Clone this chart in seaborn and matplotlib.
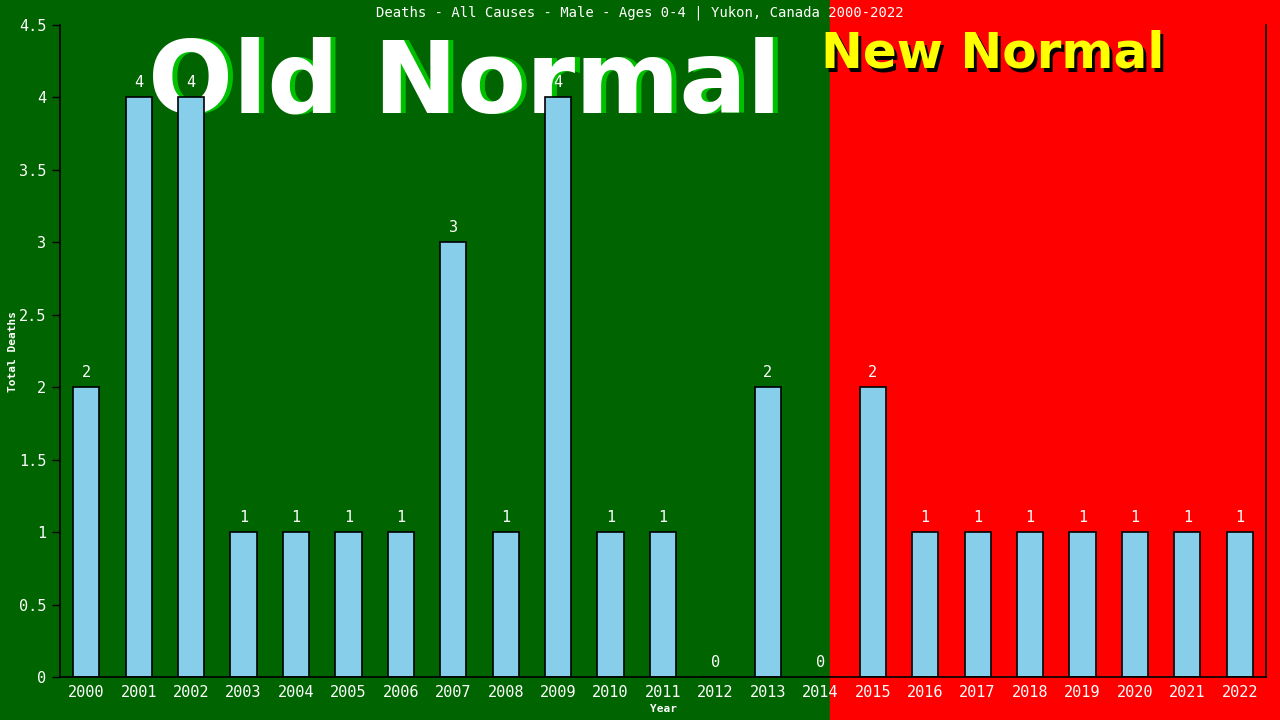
import numpy as np
import pandas as pd
import matplotlib
matplotlib.use('Agg')
import matplotlib.pyplot as plt
import matplotlib.transforms as mtransforms
from matplotlib.patches import Rectangle
import seaborn as sns

# Chart data
years = [str(y) for y in range(2000, 2023)]
deaths = [2, 4, 4, 1, 1, 1, 1, 3, 1, 4, 1, 1, 0, 2, 0, 2, 1, 1, 1, 1, 1, 1, 1]
y_ticks = [0, 0.5, 1, 1.5, 2, 2.5, 3, 3.5, 4, 4.5]
title = 'Deaths - All Causes - Male - Ages 0-4 | Yukon, Canada 2000-2022'

df = pd.DataFrame({'Year': years, 'Deaths': deaths})

sns.set_theme(style='white')
plt.rcParams['font.family'] = ['DejaVu Sans Mono', 'DejaVu Sans']

fig = plt.figure(figsize=(12.8, 7.2), dpi=100)
split = 830 / 1280
fig.patches.append(Rectangle((0, 0), split, 1, transform=fig.transFigure,
                             color='#006400', zorder=-10))
fig.patches.append(Rectangle((split, 0), 1 - split, 1, transform=fig.transFigure,
                             color='#ff0000', zorder=-10))

ax = fig.add_axes([60 / 1280, 1 - 677 / 720, (1266 - 60) / 1280, (677 - 25) / 720])
ax.patch.set_alpha(0)

sns.barplot(data=df, x='Year', y='Deaths', color='#87ceeb', saturation=1,
            width=0.5, edgecolor='black', linewidth=1.2, ax=ax)

for i, v in enumerate(deaths):
    ax.text(i, v + 0.05, str(v), ha='center', va='bottom', color='white',
            fontsize=11)

ax.set_xlim(-0.5, len(years) - 0.5)
ax.set_ylim(0, 4.5)
ax.set_yticks(y_ticks)
ax.set_yticklabels(['%g' % t for t in y_ticks])
ax.tick_params(axis='y', labelcolor='white', labelsize=11, length=6, width=1,
               direction='out', left=True, color='black', pad=4)
ax.tick_params(axis='x', labelcolor='white', labelsize=11, length=0, pad=6)

for side in ['left', 'bottom', 'right']:
    ax.spines[side].set_visible(True)
    ax.spines[side].set_color('black')
    ax.spines[side].set_linewidth(1.2)
ax.spines['top'].set_visible(False)

ax.set_xlabel('Year', color='white', fontsize=8, fontweight='bold')
ax.set_ylabel('Total Deaths', color='white', fontsize=8, fontweight='bold')
ax.yaxis.set_label_coords(-42 / 1206, 0.5)
ax.xaxis.set_label_coords(0.5, -27 / 652)

fig.text(640 / 1280, 1 - 13 / 720, title, ha='center', va='center',
         color='white', fontsize=10)

# big overlay labels with offset shadows, kept behind the bars
old_x, old_y = 465 / 1280, 1 - 112 / 720
shadow = mtransforms.offset_copy(fig.transFigure, fig=fig, x=5, y=-1, units='dots')
fig.text(old_x, old_y, 'Old Normal', transform=shadow, ha='center', va='baseline',
         color='#00c000', fontsize=72, fontweight='bold', family='DejaVu Sans', zorder=-5)
fig.text(old_x, old_y, 'Old Normal', ha='center', va='baseline',
         color='white', fontsize=72, fontweight='bold', family='DejaVu Sans', zorder=-4)

new_x, new_y = 993 / 1280, 1 - 68 / 720
shadow2 = mtransforms.offset_copy(fig.transFigure, fig=fig, x=3, y=-3, units='dots')
fig.text(new_x, new_y, 'New Normal', transform=shadow2, ha='center', va='baseline',
         color='black', fontsize=36, fontweight='bold', family='DejaVu Sans', zorder=-5)
fig.text(new_x, new_y, 'New Normal', ha='center', va='baseline',
         color='#ffff00', fontsize=36, fontweight='bold', family='DejaVu Sans', zorder=-4)

fig.savefig('out.png', dpi=100)
